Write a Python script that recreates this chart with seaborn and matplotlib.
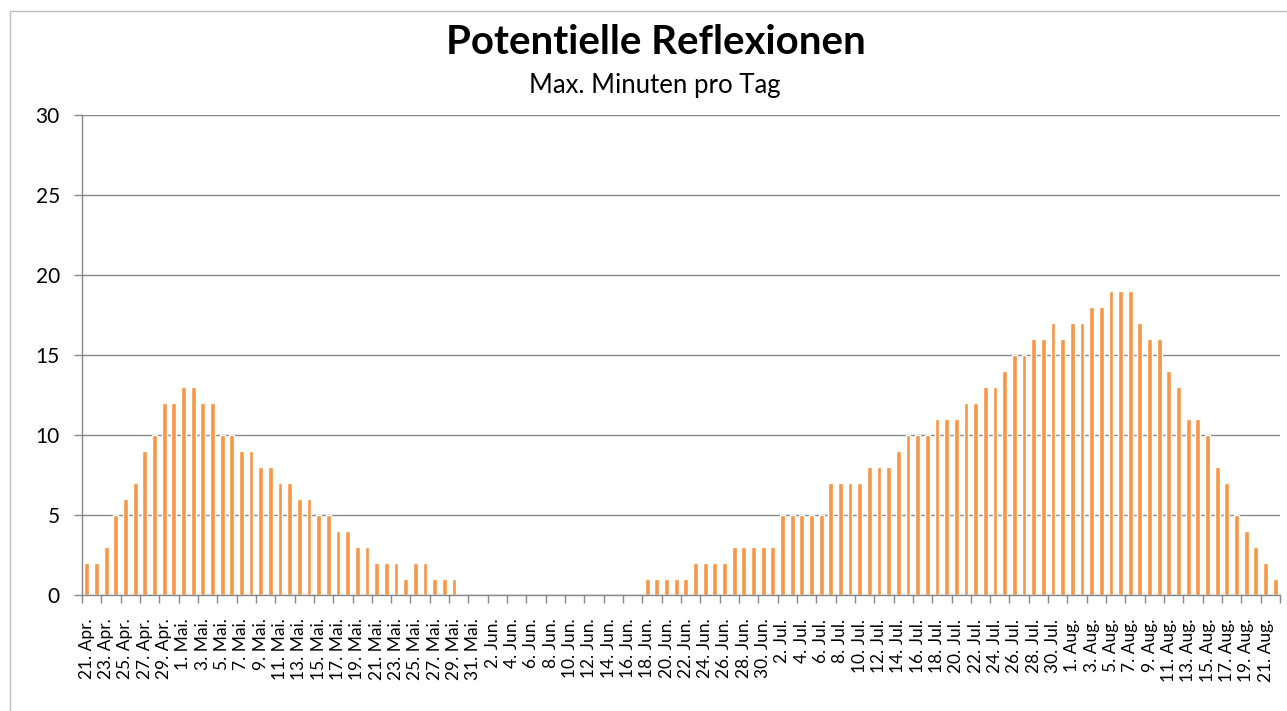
import matplotlib
matplotlib.use("Agg")
import matplotlib.pyplot as plt
import seaborn as sns
import pandas as pd
import numpy as np
from matplotlib.lines import Line2D

# ---- data ----
start_date = "2019-04-21"
end_date = "2019-08-22"
month_names = {4: "Apr.", 5: "Mai.", 6: "Jun.", 7: "Jul.", 8: "Aug."}

minutes = [
    2, 2, 3, 5, 6, 7, 9, 10, 12, 12,          # 21.-30. Apr
    13, 13, 12, 12, 10, 10, 9, 9, 8, 8,       # 1.-10. Mai
    7, 7, 6, 6, 5, 5, 4, 4, 3, 3,             # 11.-20. Mai
    2, 2, 2, 1, 2, 2, 1, 1, 1, 0, 0,          # 21.-31. Mai
    0, 0, 0, 0, 0, 0, 0, 0, 0, 0,             # 1.-10. Jun
    0, 0, 0, 0, 0, 0, 0, 1, 1, 1,             # 11.-20. Jun
    1, 1, 2, 2, 2, 2, 3, 3, 3, 3,             # 21.-30. Jun
    3, 5, 5, 5, 5, 5, 7, 7, 7, 7,             # 1.-10. Jul
    8, 8, 8, 9, 10, 10, 10, 11, 11, 11,       # 11.-20. Jul
    12, 12, 13, 13, 14, 15, 15, 16, 16, 17, 16,  # 21.-31. Jul
    17, 17, 18, 18, 19, 19, 19, 17, 16, 16,   # 1.-10. Aug
    14, 13, 11, 11, 10, 8, 7, 5, 4, 3,        # 11.-20. Aug
    2, 1,                                     # 21.-22. Aug
]

title = "Potentielle Reflexionen"
subtitle = "Max. Minuten pro Tag"
bar_color = "#F79646"

dates = pd.date_range(start_date, end_date, freq="D")
labels = [f"{d.day}. {month_names[d.month]}" for d in dates]
df = pd.DataFrame({"Datum": labels, "Minuten": minutes})

# ---- figure ----
sns.set_theme(style="white")
plt.rcParams["font.family"] = ["Lato", "DejaVu Sans"]

W, H = 1287, 711
fig = plt.figure(figsize=(W / 100, H / 100), dpi=100)
ax = fig.add_axes([82 / W, 1 - 595 / H, (1280 - 82) / W, (595 - 115) / H])

sns.barplot(data=df, x="Datum", y="Minuten", color=bar_color, width=0.5,
            saturation=1, ax=ax, order=labels)

n = len(labels)
ax.set_xlim(-0.5, n - 0.5)
ax.set_ylim(0, 30)
ax.set_yticks(np.arange(0, 31, 5))
ax.set_yticklabels([str(v) for v in range(0, 31, 5)], fontsize=15, color="#000000")
ax.yaxis.grid(True, color="#888888", linewidth=1)
ax.set_axisbelow(True)

ax.set_xticks(np.arange(0, n, 2))
ax.set_xticklabels(labels[::2], rotation=90, fontsize=12.5, color="#000000")
ax.set_xticks(np.arange(-0.5, n, 2), minor=True)
ax.tick_params(axis="x", which="major", length=0, pad=17)
ax.tick_params(axis="x", which="minor", length=6, width=1, color="#888888",
               direction="out", bottom=True)
ax.tick_params(axis="y", which="major", length=6, width=1, color="#888888",
               direction="out", left=True, pad=10)

ax.set_xlabel("")
ax.set_ylabel("")
for s in ["top", "right"]:
    ax.spines[s].set_visible(False)
for s in ["left", "bottom"]:
    ax.spines[s].set_color("#888888")
    ax.spines[s].set_linewidth(1)

fig.text(656 / W, 1 - 43 / H, title, ha="center", va="center",
         fontsize=29, fontweight="bold", color="#000000")
fig.text(655 / W, 1 - 85 / H, subtitle, ha="center", va="center",
         fontsize=18.5, color="#000000")

# outer chart frame (Excel-like)
fig.add_artist(Line2D([10 / W, 10 / W], [0, 1 - 11 / H], color="#BFBFBF", lw=1,
                      transform=fig.transFigure))
fig.add_artist(Line2D([10 / W, 1], [1 - 11 / H, 1 - 11 / H], color="#BFBFBF", lw=1,
                      transform=fig.transFigure))

fig.savefig("out.png", dpi=100, facecolor="white")
